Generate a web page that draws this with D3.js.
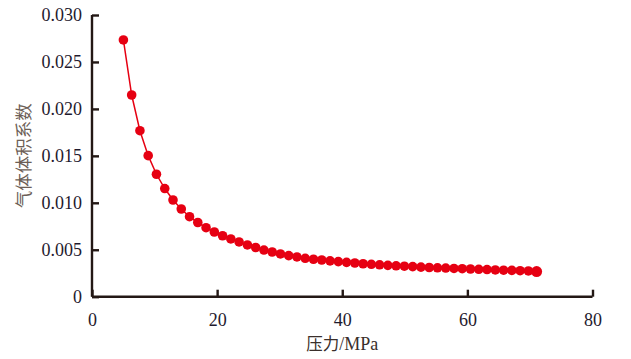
<!DOCTYPE html>
<html>
<head>
<meta charset="utf-8">
<script src="https://cdn.jsdelivr.net/npm/d3@7"></script>
<style>
html,body{margin:0;padding:0;background:#fff;}
svg{display:block;}
.serif{font-family:"Liberation Serif","Times New Roman",serif;}
.cjk{font-family:"Noto Sans CJK SC",sans-serif;}
</style>
</head>
<body>
<svg id="chart" width="631" height="359"></svg>
<script>
// pressure (MPa)
const pressure = [5.02, 6.34, 7.66, 8.98, 10.30, 11.63, 12.95, 14.27, 15.59, 16.91,
  18.23, 19.55, 20.87, 22.19, 23.51, 24.84, 26.16, 27.48, 28.80, 30.12,
  31.44, 32.76, 34.08, 35.40, 36.72, 38.05, 39.37, 40.69, 42.01, 43.33,
  44.65, 45.97, 47.29, 48.61, 49.93, 51.26, 52.58, 53.90, 55.22, 56.54,
  57.86, 59.18, 60.50, 61.82, 63.14, 64.47, 65.79, 67.11, 68.43, 69.75, 71.07];
// gas volume factor
const bg = [0.02734, 0.02148, 0.01768, 0.01502, 0.01304, 0.01152, 0.01030, 0.00934, 0.00852, 0.00790,
  0.00735, 0.00689, 0.00649, 0.00615, 0.00583, 0.00551, 0.00524, 0.00497, 0.00476, 0.00455,
  0.00437, 0.00423, 0.00409, 0.00399, 0.00391, 0.00382, 0.00374, 0.00366, 0.00359, 0.00351,
  0.00345, 0.00340, 0.00334, 0.00329, 0.00325, 0.00320, 0.00315, 0.00311, 0.00308, 0.00305,
  0.00301, 0.00298, 0.00295, 0.00292, 0.00289, 0.00285, 0.00282, 0.00280, 0.00277, 0.00274, 0.00268];
const xTicks = [0, 20, 40, 60, 80];
const yTicks = [0, 0.005, 0.010, 0.015, 0.020, 0.025, 0.030];
const yTickLabels = ["0", "0.005", "0.010", "0.015", "0.020", "0.025", "0.030"];
const xTitleCJK = "压力";
const xTitleUnit = "/MPa";
const yTitle = "气体体积系数";

(function () {
const data = pressure.map((p, i) => ({p, v: bg[i]}));

const svg = d3.select("#chart");
const mL = 92, mR = 592.5, mT = 15, mB = 296.7;
const x = d3.scaleLinear().domain([0, 80]).range([mL, mR]);
const y = d3.scaleLinear().domain([0, 0.030]).range([mB, mT]);

const axisColor = "#231815";
const red = "#e60012";

const gx = svg.append("g").attr("transform", `translate(0,${mB})`)
  .call(d3.axisBottom(x).tickValues(xTicks).tickSizeInner(-7).tickSizeOuter(0).tickPadding(17).tickFormat(d3.format("d")));
const gy = svg.append("g").attr("transform", `translate(${mL},0)`)
  .call(d3.axisLeft(y).tickValues(yTicks).tickSizeInner(-7).tickSizeOuter(0).tickPadding(10)
    .tickFormat((d, i) => yTickLabels[i]));

[gx, gy].forEach(g => {
  g.attr("font-family", null).attr("font-size", null);
  g.select(".domain").attr("stroke", axisColor).attr("stroke-width", 2.4);
  g.selectAll(".tick line").attr("stroke", axisColor).attr("stroke-width", 2.4);
  g.selectAll(".tick text").attr("class", "serif").attr("fill", "#1f1a2e").style("font-size", "18px");
});
gx.select(".domain").attr("d", `M${mL},0H${mR}`);
gy.select(".domain").attr("d", `M0,${mT}V${mB}`);

svg.append("path").datum(data)
  .attr("fill", "none").attr("stroke", red).attr("stroke-width", 1.5)
  .attr("d", d3.line().x(d => x(d.p)).y(d => y(d.v)));

svg.append("g").selectAll("circle").data(data).join("circle")
  .attr("cx", d => x(d.p)).attr("cy", d => y(d.v))
  .attr("r", (d, i) => i === data.length - 1 ? 5.5 : 4.8)
  .attr("fill", red);

const xt = svg.append("text")
  .attr("x", (mL + mR) / 2).attr("y", 350)
  .attr("text-anchor", "middle").attr("fill", "#3a2f2b");
xt.append("tspan").attr("class", "cjk").style("font-size", "16.5px").text(xTitleCJK);
xt.append("tspan").attr("class", "serif").style("font-size", "18px").text(xTitleUnit);

svg.append("text")
  .attr("class", "cjk")
  .attr("transform", `translate(30,${(mT + mB) / 2}) rotate(-90)`)
  .attr("text-anchor", "middle").attr("fill", "#6d5f57")
  .style("font-size", "17.5px")
  .text(yTitle);
})();
</script>
</body>
</html>
